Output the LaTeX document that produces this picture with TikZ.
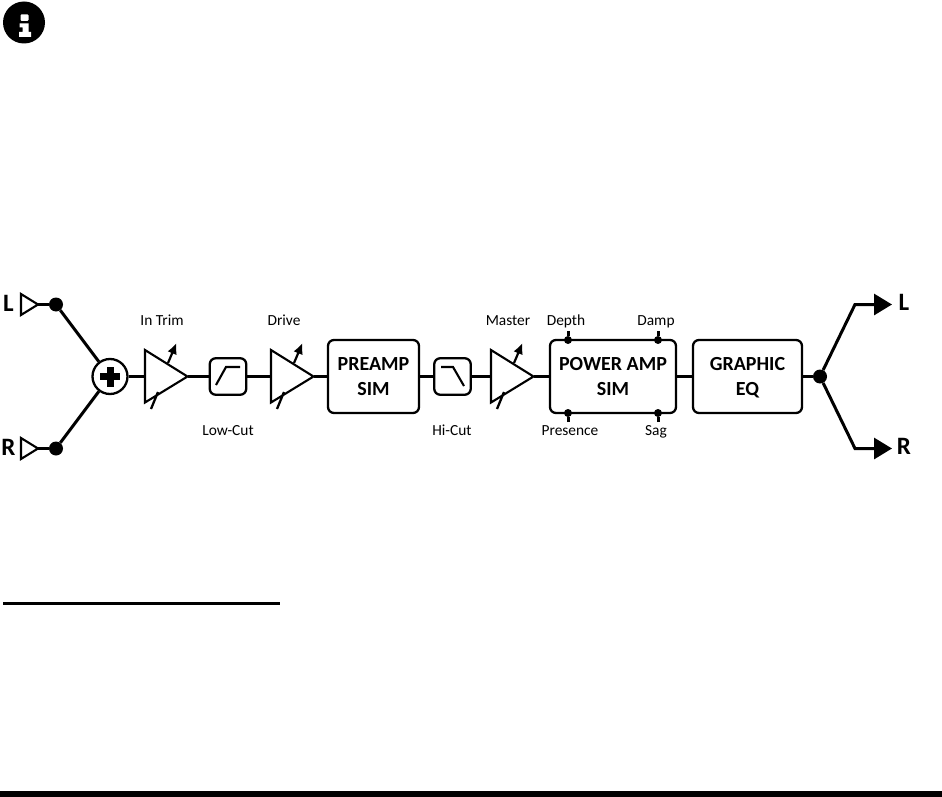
\documentclass[tikz,border=0pt]{standalone}
\usepackage{fontspec}
\setmainfont{Carlito}
\usetikzlibrary{arrows.meta,calc}
\tikzset{
  wire/.style={line width=3pt,line cap=butt,line join=miter},
  tri/.style={draw,line width=2.1pt,line join=miter,fill=white},
  blockbox/.style={draw,line width=2.3pt,rounded corners=6pt,fill=white,inner sep=0pt,align=center,
    font=\fontsize{20}{25}\selectfont\bfseries,text depth=0pt},
  filterbox/.style={draw,line width=2.3pt,rounded corners=6pt,fill=white,minimum width=36.5pt,minimum height=36.5pt,inner sep=0pt},
  dotnode/.style={circle,fill=black,inner sep=0pt,minimum size=#1},
  lab/.style={font=\fontsize{15.4}{17}\selectfont,inner sep=0pt,anchor=base},
  io/.style={font=\fontsize{25}{28}\selectfont\bfseries,inner sep=0pt,anchor=base},
  ctrl/.style={line width=2.2pt,-{Latex[length=11pt,width=10pt]}},
  tick/.style={line width=2.3pt},
  curve/.style={line width=2.1pt,line join=miter}
}
\newcommand{\ampstage}[2]{%
  \coordinate (#1-in) at (#2,376.5);
  \coordinate (#1-tip) at (#2+42.5,376.5);
  \coordinate (#1-arrow) at (#2+23,363);
  \coordinate (#1-head) at (#2+31.5,343);
  \coordinate (#1-tickb) at (#2+6,409);
  \coordinate (#1-tickt) at (#2+13,392);
  \draw[tri] (#2,350) -- (#1-tip) -- (#2,402.5) -- cycle;
  \draw[ctrl] (#1-arrow) -- (#1-head);
  \draw[tick] (#1-tickb) -- (#1-tickt);
}
\begin{document}
\begin{tikzpicture}[x=1pt,y=-1pt]
\useasboundingbox (0,0) rectangle (942,797);
% info icon
\fill (24,22.5) circle (21);
\fill[white,rounded corners=1pt] (20.5,14.5) rectangle (28.5,21);
\fill[white] (19.5,23.5) -- (28.5,23.5) -- (28.5,32) -- (31,32) -- (31,37) -- (19,37) -- (19,32) -- (22.5,32) -- (22.5,27.5) -- (19.5,27.5) -- cycle;
% rule lines
\fill (3,602) rectangle (280,605);
\fill (0,791) rectangle (942,797);
% inputs
\node[io] (inL) at (8.5,311.5) {L};
\node[io] (inR) at (8.5,455.5) {R};
\coordinate (trLtip) at (38,304.5);
\coordinate (trRtip) at (38,448.5);
\node[dotnode=14pt] (dL) at (56,304.5) {};
\node[dotnode=14pt] (dR) at (56,448.5) {};
\draw[wire] (trLtip) -- (dL);
\draw[wire] (trRtip) -- (dR);
\draw[tri] (21,294) -- (trLtip) -- (21,315) -- cycle;
\draw[tri] (21,438) -- (trRtip) -- (21,459) -- cycle;
% summing
\node[circle,draw,line width=2.3pt,minimum size=35pt,inner sep=0pt,fill=white] (sum) at (110,376.5) {};
\fill (100,373) rectangle (120,380);
\fill (106.5,366.5) rectangle (113.5,386.5);
\draw[wire] (dL) -- (sum);
\draw[wire] (dR) -- (sum);
% boxes
\node[filterbox] (lc) at (228,376.5) {};
\node[blockbox,minimum width=91pt,minimum height=73pt] (pre) at (373.5,376.5) {PREAMP\\SIM};
\node[filterbox] (hc) at (452.5,376.5) {};
\node[blockbox,minimum width=126pt,minimum height=73pt] (pow) at (613,376.5) {POWER AMP\\SIM};
\node[blockbox,minimum width=109pt,minimum height=73pt] (geq) at (747.5,376.5) {GRAPHIC\\EQ};
% amps
\ampstage{a1}{145}
\ampstage{a2}{271}
\ampstage{a3}{491}
% filter icons
\draw[curve] (216,385) -- (226,367) -- (240,367);
\draw[curve] (441,367) -- (453,367) -- (464,386);
% chain
\draw[wire] (sum) -- (a1-in);
\draw[wire] (a1-tip) -- (lc);
\draw[wire] (lc) -- (a2-in);
\draw[wire] (a2-tip) -- (pre);
\draw[wire] (pre) -- (hc);
\draw[wire] (hc) -- (a3-in);
\draw[wire] (a3-tip) -- (pow);
\draw[wire] (pow) -- (geq);
% power amp pins
\coordinate (pinA) at (568,331);
\coordinate (pinB) at (658,331);
\coordinate (pinC) at (568,422);
\coordinate (pinD) at (658,422);
\node[dotnode=8pt] (dA) at (568,340) {};
\node[dotnode=8pt] (dB) at (658,340) {};
\node[dotnode=8pt] (dC) at (568,413) {};
\node[dotnode=8pt] (dD) at (658,413) {};
\draw[wire] (pinA) -- (dA);
\draw[wire] (pinB) -- (dB);
\draw[wire] (pinC) -- (dC);
\draw[wire] (pinD) -- (dD);
% outputs
\node[dotnode=14pt] (dO) at (820,376.5) {};
\draw[wire] (geq) -- (dO);
\coordinate (kL) at (855,304.5);
\coordinate (kR) at (855,448.5);
\node[io] (outL) at (904,310) {L};
\node[io] (outR) at (904,454) {R};
\coordinate (endL) at (892,304.5);
\coordinate (endR) at (892,448.5);
\draw[wire,-{Triangle[length=18pt,width=21pt]}] (dO) -- (kL) -- (endL);
\draw[wire,-{Triangle[length=18pt,width=21pt]}] (dO) -- (kR) -- (endR);
% labels
\node[lab] (t1) at (162,325.5) {In Trim};
\node[lab] (t2) at (284,325.5) {Drive};
\node[lab] (t3) at (228,435.5) {Low-Cut};
\node[lab] (t4) at (452,435.5) {Hi-Cut};
\node[lab] (t5) at (508,325.5) {Master};
\node[lab] (t6) at (566,325.5) {Depth};
\node[lab] (t7) at (656,325.5) {Damp};
\node[lab] (t8) at (570,435.5) {Presence};
\node[lab] (t9) at (656,435.5) {Sag};
\end{tikzpicture}
\end{document}
